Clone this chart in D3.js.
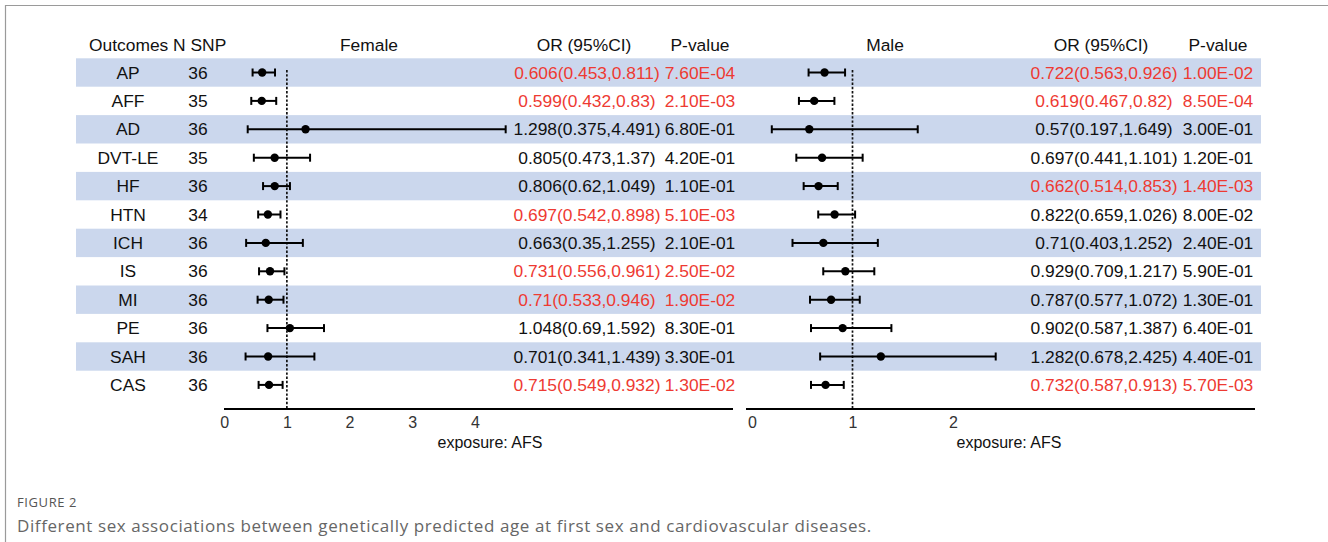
<!DOCTYPE html>
<html>
<head>
<meta charset="utf-8">
<script src="https://cdn.jsdelivr.net/npm/d3@7"></script>
<style>
  html, body { margin: 0; padding: 0; background: #fff; }
  svg { display: block; }
</style>
</head>
<body>
<div id="container"></div>
<script>
// Forest plot — sex-stratified MR results (AFS → CVD)

// ---------------------------------------------------------------------------
// Data
// ---------------------------------------------------------------------------
const outcomes = ['AP', 'AFF', 'AD', 'DVT-LE', 'HF', 'HTN', 'ICH', 'IS', 'MI', 'PE', 'SAH', 'CAS'];
const nSnp     = [36, 35, 36, 35, 36, 34, 36, 36, 36, 36, 36, 36];

const femaleOR   = [0.606, 0.599, 1.298, 0.805, 0.806, 0.697, 0.663, 0.731, 0.71, 1.048, 0.701, 0.715];
const femaleLow  = [0.453, 0.432, 0.375, 0.473, 0.62, 0.542, 0.35, 0.556, 0.533, 0.69, 0.341, 0.549];
const femaleHigh = [0.811, 0.83, 4.491, 1.37, 1.049, 0.898, 1.255, 0.961, 0.946, 1.592, 1.439, 0.932];
const femaleP    = ['7.60E-04', '2.10E-03', '6.80E-01', '4.20E-01', '1.10E-01', '5.10E-03',
                    '2.10E-01', '2.50E-02', '1.90E-02', '8.30E-01', '3.30E-01', '1.30E-02'];

const maleOR   = [0.722, 0.619, 0.57, 0.697, 0.662, 0.822, 0.71, 0.929, 0.787, 0.902, 1.282, 0.732];
const maleLow  = [0.563, 0.467, 0.197, 0.441, 0.514, 0.659, 0.403, 0.709, 0.577, 0.587, 0.678, 0.587];
const maleHigh = [0.926, 0.82, 1.649, 1.101, 0.853, 1.026, 1.252, 1.217, 1.072, 1.387, 2.425, 0.913];
const maleP    = ['1.00E-02', '8.50E-04', '3.00E-01', '1.20E-01', '1.40E-03', '8.00E-02',
                  '2.40E-01', '5.90E-01', '1.30E-01', '6.40E-01', '4.40E-01', '5.70E-03'];

const femaleTicks = [0, 1, 2, 3, 4];
const maleTicks   = [0, 1, 2];

// ---------------------------------------------------------------------------
// Layout
// ---------------------------------------------------------------------------
const W = 1328, H = 542;
const FONT = 'Liberation Sans, Arial, Helvetica, sans-serif';
const FS   = 17.4;
const RED  = '#ee3a32';
const BAND = '#cbd7ed';

const rowTop   = 58.3;
const rowH     = 28.4;
const axisY    = 409;
const headerY  = 45;

const panels = [
  {
    title: 'Female', titleX: 369,
    or: femaleOR, lo: femaleLow, hi: femaleHigh, p: femaleP, ticks: femaleTicks,
    x: d3.scaleLinear().domain([0, 4]).range([224.2, 474.9]),
    axisFrom: 224, axisTo: 733, orX: 587, pX: 700, xlabX: 490
  },
  {
    title: 'Male', titleX: 885,
    or: maleOR, lo: maleLow, hi: maleHigh, p: maleP, ticks: maleTicks,
    x: d3.scaleLinear().domain([0, 2]).range([752, 953]),
    axisFrom: 746, axisTo: 1255, orX: 1104, pX: 1218, xlabX: 1009
  }
];

const y = d3.scaleBand()
  .domain(outcomes)
  .range([rowTop, rowTop + rowH * outcomes.length])
  .padding(0);

// ---------------------------------------------------------------------------
// Draw
// ---------------------------------------------------------------------------
const svg = d3.select('#container').append('svg')
  .attr('width', W)
  .attr('height', H);

// frame (top + left rule of the figure box)
svg.append('path')
  .attr('d', `M5.5,${H} L5.5,5.5 L${W},5.5`)
  .attr('fill', 'none')
  .attr('stroke', '#9a9a9a')
  .attr('stroke-width', 1.2);

// alternating row bands
svg.append('g').selectAll('rect')
  .data(outcomes.filter((d, i) => i % 2 === 0))
  .join('rect')
  .attr('x', 76)
  .attr('y', d => y(d))
  .attr('width', 1261 - 76)
  .attr('height', y.bandwidth())
  .attr('fill', BAND);

// header
const header = svg.append('g')
  .attr('font-family', FONT)
  .attr('font-size', FS)
  .attr('fill', '#111');

header.append('text').attr('x', 89).attr('y', headerY).attr('dy', '0.35em').text('Outcomes N SNP');

// outcome + N SNP columns
const rowsG = svg.append('g')
  .attr('font-family', FONT)
  .attr('font-size', FS)
  .attr('fill', '#111');

rowsG.selectAll('text.outcome')
  .data(outcomes)
  .join('text')
  .attr('class', 'outcome')
  .attr('x', 128)
  .attr('y', d => y(d) + y.bandwidth() / 2)
  .attr('dy', '0.35em')
  .attr('text-anchor', 'middle')
  .text(d => d);

rowsG.selectAll('text.nsnp')
  .data(outcomes)
  .join('text')
  .attr('class', 'nsnp')
  .attr('x', 198)
  .attr('y', d => y(d) + y.bandwidth() / 2)
  .attr('dy', '0.35em')
  .attr('text-anchor', 'middle')
  .text((d, i) => nSnp[i]);

panels.forEach(pn => {
  const g = svg.append('g');
  const x = pn.x;
  const isSig = i => parseFloat(pn.p[i]) < 0.05;

  // headers
  const hg = g.append('g')
    .attr('font-family', FONT)
    .attr('font-size', FS)
    .attr('fill', '#111')
    .attr('text-anchor', 'middle');
  hg.append('text').attr('x', pn.titleX).attr('y', headerY).attr('dy', '0.35em').text(pn.title);
  hg.append('text').attr('x', pn.orX - 3).attr('y', headerY).attr('dy', '0.35em').text('OR (95%CI)');
  hg.append('text').attr('x', pn.pX).attr('y', headerY).attr('dy', '0.35em').text('P-value');

  // reference line at OR = 1
  g.append('line')
    .attr('x1', x(1)).attr('x2', x(1))
    .attr('y1', 70).attr('y2', axisY)
    .attr('stroke', '#111')
    .attr('stroke-width', 1.7)
    .attr('stroke-dasharray', '2.4,1.8');

  // CI whiskers
  const ci = g.append('g').selectAll('g')
    .data(outcomes)
    .join('g')
    .attr('transform', d => `translate(0,${y(d) + y.bandwidth() / 2})`);

  ci.append('line')
    .attr('x1', (d, i) => x(pn.lo[i]))
    .attr('x2', (d, i) => x(pn.hi[i]))
    .attr('stroke', '#000')
    .attr('stroke-width', 2);

  ci.append('line')
    .attr('x1', (d, i) => x(pn.lo[i])).attr('x2', (d, i) => x(pn.lo[i]))
    .attr('y1', -4).attr('y2', 4)
    .attr('stroke', '#000').attr('stroke-width', 2);

  ci.append('line')
    .attr('x1', (d, i) => x(pn.hi[i])).attr('x2', (d, i) => x(pn.hi[i]))
    .attr('y1', -4).attr('y2', 4)
    .attr('stroke', '#000').attr('stroke-width', 2);

  ci.append('circle')
    .attr('cx', (d, i) => x(pn.or[i]))
    .attr('r', 4.2)
    .attr('fill', '#000');

  // OR (95%CI) and P columns
  const tg = g.append('g')
    .attr('font-family', FONT)
    .attr('font-size', FS)
    .attr('text-anchor', 'middle');

  tg.selectAll('text.or')
    .data(outcomes)
    .join('text')
    .attr('class', 'or')
    .attr('x', pn.orX)
    .attr('y', d => y(d) + y.bandwidth() / 2)
    .attr('dy', '0.35em')
    .attr('fill', (d, i) => isSig(i) ? RED : '#111')
    .text((d, i) => `${pn.or[i]}(${pn.lo[i]},${pn.hi[i]})`);

  tg.selectAll('text.p')
    .data(outcomes)
    .join('text')
    .attr('class', 'p')
    .attr('x', pn.pX)
    .attr('y', d => y(d) + y.bandwidth() / 2)
    .attr('dy', '0.35em')
    .attr('fill', (d, i) => isSig(i) ? RED : '#111')
    .text((d, i) => pn.p[i]);

  // x axis
  g.append('line')
    .attr('x1', pn.axisFrom).attr('x2', pn.axisTo)
    .attr('y1', axisY).attr('y2', axisY)
    .attr('stroke', '#000')
    .attr('stroke-width', 2);

  const ax = g.append('g')
    .attr('transform', `translate(0,${axisY})`)
    .call(d3.axisBottom(x).tickValues(pn.ticks).tickSize(0).tickPadding(8).tickFormat(d3.format('d')));
  ax.select('.domain').remove();
  ax.selectAll('text')
    .attr('font-family', FONT)
    .attr('font-size', 16)
    .attr('fill', '#333');

  g.append('text')
    .attr('x', pn.xlabX)
    .attr('y', 442)
    .attr('dy', '0.35em')
    .attr('text-anchor', 'middle')
    .attr('font-family', FONT)
    .attr('font-size', 16)
    .attr('fill', '#111')
    .text('exposure: AFS');
});

// caption
svg.append('text')
  .attr('x', 17).attr('y', 507)
  .attr('font-family', 'Open Sans, sans-serif')
  .attr('font-size', 13)
  .attr('letter-spacing', 0.6)
  .attr('fill', '#555')
  .text('FIGURE 2');

svg.append('text')
  .attr('x', 17).attr('y', 532)
  .attr('font-family', 'Open Sans, sans-serif')
  .attr('font-size', 17)
  .attr('letter-spacing', 0.6)
  .attr('fill', '#666')
  .text('Different sex associations between genetically predicted age at first sex and cardiovascular diseases.');
</script>
</body>
</html>
